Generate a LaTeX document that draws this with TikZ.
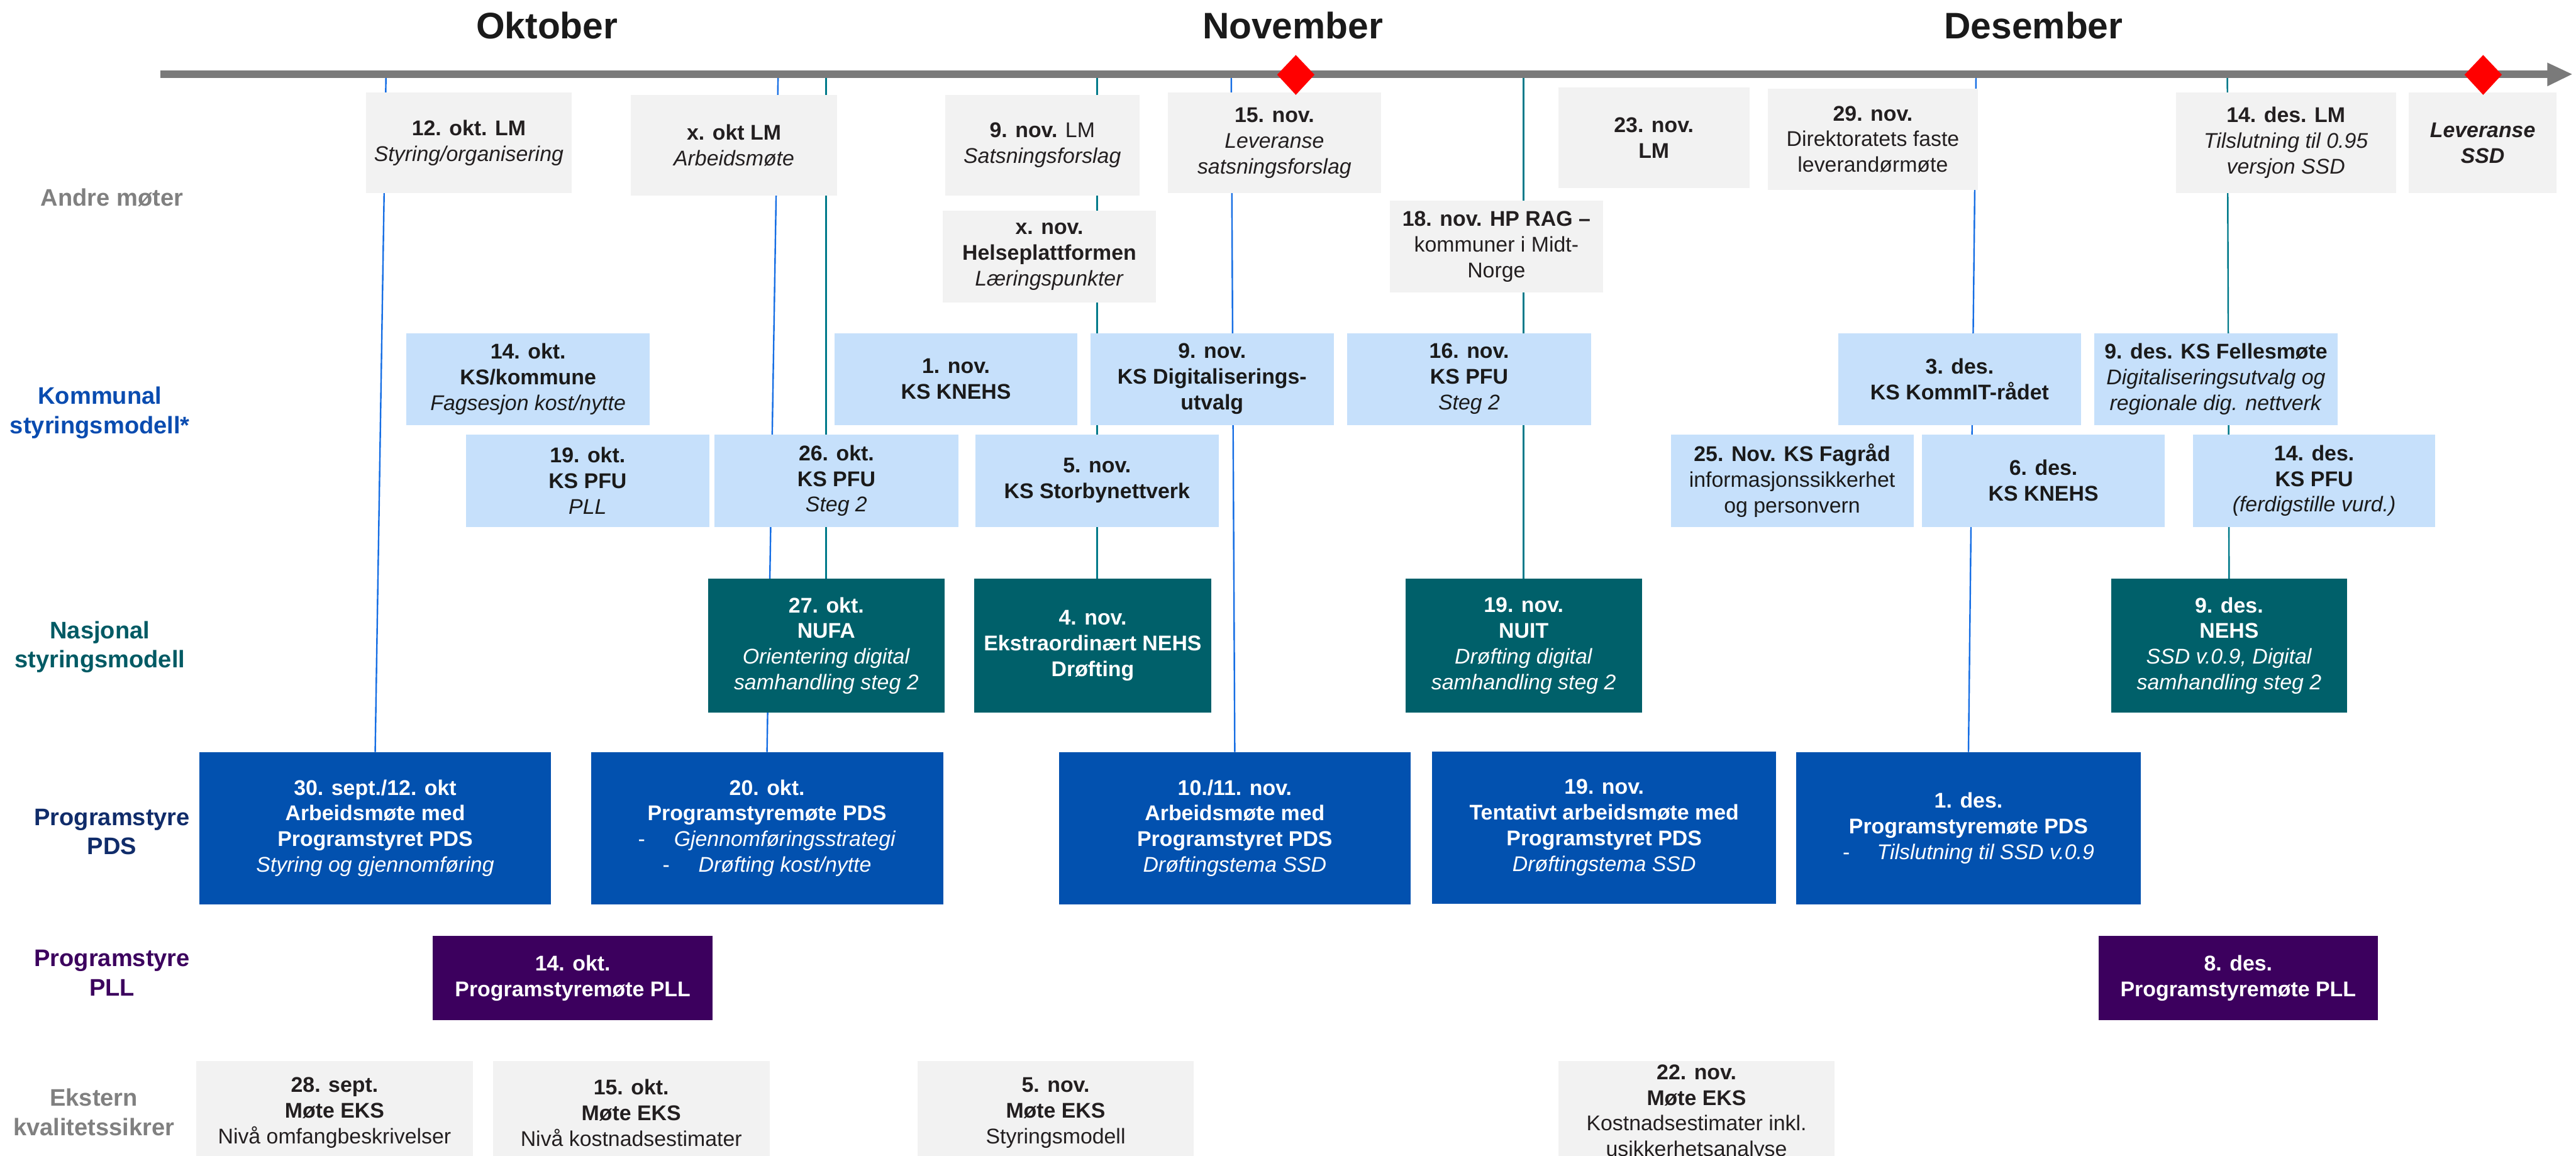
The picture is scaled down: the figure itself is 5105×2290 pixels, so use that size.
\documentclass[tikz,border=0pt]{standalone}
\usepackage{fontspec}
\setmainfont{Liberation Sans}
\usetikzlibrary{backgrounds}
\definecolor{barg}{RGB}{122,122,122}
\definecolor{boxg}{RGB}{242,242,242}
\definecolor{boxlb}{RGB}{198,224,251}
\definecolor{boxteal}{RGB}{0,96,106}
\definecolor{boxblue}{RGB}{2,81,175}
\definecolor{boxpur}{RGB}{60,0,94}
\definecolor{lnblue}{RGB}{22,110,228}
\definecolor{lnteal}{RGB}{0,122,138}
\definecolor{txtd}{RGB}{35,31,32}
\definecolor{txtk}{RGB}{26,26,26}
\definecolor{lblgray}{RGB}{128,128,128}
\definecolor{lblblue}{RGB}{10,76,176}
\definecolor{lblteal}{RGB}{0,90,100}
\definecolor{lblnavy}{RGB}{16,44,106}
\definecolor{dmred}{RGB}{255,0,0}
\newcommand\evnode[7]{\node[evbox,#6,minimum width={(#4-#2)*0.01cm},minimum height={(#5-#3)*0.01cm}] (#1) at ({(#2+#4)/2},{(#3+#5)/2}) {#7};}
\begin{document}
\begin{tikzpicture}[x=0.01cm,y=-0.01cm,
 evbox/.style={rectangle,inner sep=0pt,outer sep=0pt,align=center,font=\fontsize{12}{14.5}\selectfont},
 grayev/.style={fill=boxg,text=txtd},
 lbev/.style={fill=boxlb,text=txtk},
 tealev/.style={fill=boxteal,text=white},
 blueev/.style={fill=boxblue,text=white},
 purev/.style={fill=boxpur,text=white},
 lbl/.style={inner sep=0pt,align=center,font=\bfseries\fontsize{13.5}{16.4}\selectfont},
 month/.style={inner sep=0pt,font=\bfseries\fontsize{20.8}{24}\selectfont,text=txtk},
 lnb/.style={draw=lnblue,line width=0.85pt},
 lnt/.style={draw=lnteal,line width=0.85pt}]
\useasboundingbox (0,0) rectangle (5105,2290);

% month titles
\node[month] (m1) at (1084,50) {Oktober};
\node[month] (m2) at (2562,50) {November};
\node[month] (m3) at (4030,50) {Desember};

% row labels
\node[lbl,text=lblgray] (r1) at (222,392) {Andre møter};
\node[lbl,text=lblblue] (r2) at (198,818) {Kommunal\\styringsmodell*};
\node[lbl,text=lblteal] (r3) at (198,1282) {Nasjonal\\styringsmodell};
\node[lbl,text=lblnavy] (r4) at (222,1648) {Programstyre\\PDS};
\node[lbl,text=boxpur] (r5) at (222,1928) {Programstyre\\PLL};
\node[lbl,text=lblgray] (r6) at (186,2204) {Ekstern\\kvalitetssikrer};

% Andre moter
\evnode{A1}{725}{183}{1133}{383}{grayev}{\textbf{12. okt. LM}\\\textit{Styring/organisering}}
\evnode{A2}{1250}{188}{1659}{388}{grayev}{\textbf{x. okt LM}\\\textit{Arbeidsmøte}}
\evnode{A3}{1873}{188}{2258}{388}{grayev}{\textbf{9. nov.} LM\\\textit{Satsningsforslag}}
\evnode{A4}{2314}{183}{2737}{383}{grayev}{\textbf{15. nov.}\\\textit{Leveranse}\\\textit{satsningsforslag}}
\evnode{A5}{3088}{173}{3467}{373}{grayev}{\textbf{23. nov.}\\\textbf{LM}}
\evnode{A6}{3503}{176}{3920}{376}{grayev}{\textbf{29. nov.}\\Direktoratets faste\\leverandørmøte}
\evnode{A7}{4312}{183}{4748}{383}{grayev}{\textbf{14. des. LM}\\\textit{Tilslutning til 0.95}\\\textit{versjon SSD}}
\evnode{A8}{4774}{183}{5066}{383}{grayev}{\textbf{\textit{Leveranse}}\\\textbf{\textit{SSD}}}
\evnode{A9}{1868}{417}{2291}{600}{grayev}{\textbf{x. nov.}\\\textbf{Helseplattformen}\\\textit{Læringspunkter}}
\evnode{A10}{2754}{398}{3177}{580}{grayev}{\textbf{18. nov. HP RAG –}\\kommuner i Midt-\\Norge}

% Kommunal styringsmodell
\evnode{K1}{805}{660}{1288}{842}{lbev}{\textbf{14. okt.}\\\textbf{KS/kommune}\\\textit{Fagsesjon kost/nytte}}
\evnode{K2}{1654}{660}{2135}{842}{lbev}{\textbf{1. nov.}\\\textbf{KS KNEHS}}
\evnode{K3}{2161}{660}{2643}{842}{lbev}{\textbf{9. nov.}\\\textbf{KS Digitaliserings-}\\\textbf{utvalg}}
\evnode{K4}{2670}{660}{3153}{842}{lbev}{\textbf{16. nov.}\\\textbf{KS PFU}\\\textit{Steg 2}}
\evnode{K5}{3643}{660}{4124}{842}{lbev}{\textbf{3. des.}\\\textbf{KS KommIT-rådet}}
\evnode{K6}{4150}{660}{4633}{842}{lbev}{\textbf{9. des. KS Fellesmøte}\\\textit{Digitaliseringsutvalg og}\\\textit{regionale dig. nettverk}}
\evnode{K7}{923}{861}{1406}{1044}{lbev}{\textbf{19. okt.}\\\textbf{KS PFU}\\\textit{PLL}}
\evnode{K8}{1416}{861}{1899}{1044}{lbev}{\textbf{26. okt.}\\\textbf{KS PFU}\\\textit{Steg 2}}
\evnode{K9}{1933}{861}{2415}{1044}{lbev}{\textbf{5. nov.}\\\textbf{KS Storbynettverk}}
\evnode{K10}{3311}{861}{3792}{1044}{lbev}{\textbf{25. Nov. KS Fagråd}\\informasjonssikkerhet\\og personvern}
\evnode{K11}{3809}{861}{4290}{1044}{lbev}{\textbf{6. des.}\\\textbf{KS KNEHS}}
\evnode{K12}{4346}{861}{4826}{1044}{lbev}{\textbf{14. des.}\\\textbf{KS PFU}\\\textit{(ferdigstille vurd.)}}

% Nasjonal styringsmodell
\evnode{N1}{1403}{1147}{1872}{1412}{tealev}{\textbf{27. okt.}\\\textbf{NUFA}\\\textit{Orientering digital}\\\textit{samhandling steg 2}}
\evnode{N2}{1931}{1147}{2400}{1412}{tealev}{\textbf{4. nov.}\\\textbf{Ekstraordinært NEHS}\\\textbf{Drøfting}}
\evnode{N3}{2785}{1147}{3254}{1412}{tealev}{\textbf{19. nov.}\\\textbf{NUIT}\\\textit{Drøfting digital}\\\textit{samhandling steg 2}}
\evnode{N4}{4184}{1147}{4651}{1412}{tealev}{\textbf{9. des.}\\\textbf{NEHS}\\\textit{SSD v.0.9, Digital}\\\textit{samhandling steg 2}}

% Programstyre PDS
\evnode{P1}{395}{1490}{1092}{1792}{blueev}{\textbf{30. sept./12. okt}\\\textbf{Arbeidsmøte med}\\\textbf{Programstyret PDS}\\\textit{Styring og gjennomføring}}
\evnode{P2}{1171}{1490}{1869}{1792}{blueev}{\textbf{20. okt.}\\\textbf{Programstyremøte PDS}\\-\hspace{0.57cm}\textit{Gjennomføringsstrategi}\\-\hspace{0.57cm}\textit{Drøfting kost/nytte}}
\evnode{P3}{2099}{1490}{2795}{1792}{blueev}{\textbf{10./11. nov.}\\\textbf{Arbeidsmøte med}\\\textbf{Programstyret PDS}\\\textit{Drøftingstema SSD}}
\evnode{P4}{2838}{1489}{3520}{1791}{blueev}{\textbf{19. nov.}\\\textbf{Tentativt arbeidsmøte med}\\\textbf{Programstyret PDS}\\\textit{Drøftingstema SSD}}
\evnode{P5}{3560}{1490}{4242}{1792}{blueev}{\textbf{1. des.}\\\textbf{Programstyremøte PDS}\\-\hspace{0.54cm}\textit{Tilslutning til SSD v.0.9}}

% Programstyre PLL
\evnode{L1}{858}{1854}{1412}{2022}{purev}{\textbf{14. okt.}\\\textbf{Programstyremøte PLL}}
\evnode{L2}{4159}{1854}{4712}{2022}{purev}{\textbf{8. des.}\\\textbf{Programstyremøte PLL}}

% Ekstern kvalitetssikrer
\evnode{E1}{389}{2103}{937}{2307}{grayev}{\textbf{28. sept.}\\\textbf{Møte EKS}\\Nivå omfangbeskrivelser}
\evnode{E2}{977}{2103}{1525}{2307}{grayev}{\textbf{15. okt.}\\\textbf{Møte EKS}\\Nivå kostnadsestimater}
\evnode{E3}{1818}{2103}{2366}{2307}{grayev}{\textbf{5. nov.}\\\textbf{Møte EKS}\\Styringsmodell}
\evnode{E4}{3088}{2103}{3636}{2307}{grayev}{\textbf{22. nov.}\\\textbf{Møte EKS}\\Kostnadsestimater inkl.\\usikkerhetsanalyse}

% timeline anchor points
\coordinate (t1) at (765,147);
\coordinate (t2) at (1542,147);
\coordinate (t3) at (1637,147);
\coordinate (t4) at (2174,147);
\coordinate (t5) at (2440,147);
\coordinate (t6) at (3019,147);
\coordinate (t7) at (3916,147);
\coordinate (t8) at (4414,147);

\begin{pgfonlayer}{background}
\draw[lnb] (t1) -- (P1.north);
\draw[lnb] (t2) -- (P2.north);
\draw[lnt] (t3) -- (t3 |- N1.north);
\draw[lnt] (t4) -- (t4 |- N2.north);
\draw[lnb] (t5) -- (P3.north);
\draw[lnt] (t6) -- (t6 |- N3.north);
\draw[lnb] (t7) -- (P5.north);
\draw[lnt] (t8) -- (N4.north);
\end{pgfonlayer}

% timeline bar and arrow head
\fill[barg] (318,139) rectangle (5050,155);
\fill[barg] (5048,124) -- (5097,147) -- (5048,171) -- cycle;

% milestones
\fill[dmred] (2568,109) -- (2605,148) -- (2568,188) -- (2531,148) -- cycle;
\fill[dmred] (4921,109) -- (4958,148) -- (4921,188) -- (4884,148) -- cycle;
\end{tikzpicture}
\end{document}
